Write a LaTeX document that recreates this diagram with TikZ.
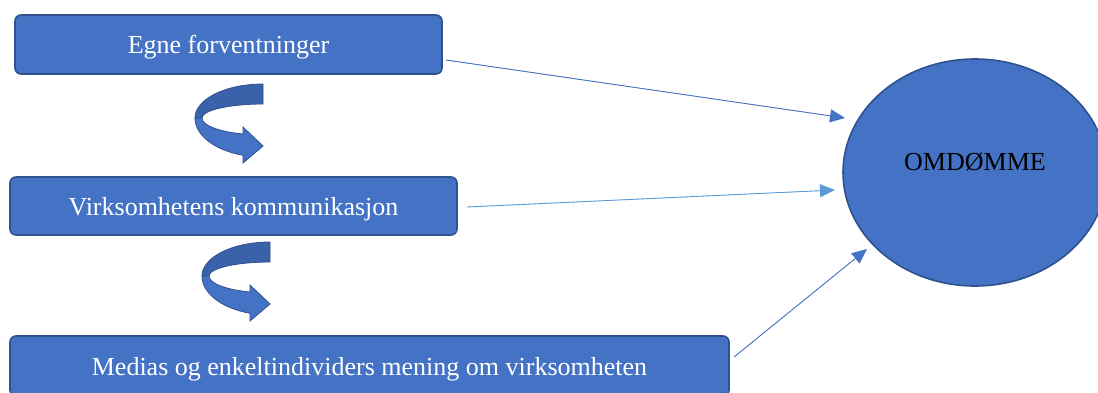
\documentclass[tikz,border=0pt]{standalone}
\usepackage{fontspec}
\setmainfont{Liberation Serif}
\usetikzlibrary{shapes.geometric,arrows.meta}
\definecolor{boxblue}{HTML}{4472C4}
\definecolor{edgeblue}{HTML}{2F528F}
\definecolor{backblue}{HTML}{3A62AA}
\definecolor{lightblue}{HTML}{5B9BD5}
\tikzset{
  stepbox/.style={draw=edgeblue, line width=1.6pt, fill=boxblue, rounded corners=6pt,
    text=white, font=\fontsize{26}{30}\selectfont, inner sep=0pt,
    text height=18pt, text depth=0pt},
  conn/.style={line width=0.9pt, -{Triangle[length=15pt,width=13pt]}},
  curlarrow/.pic={
    % rear half of the ribbon
    \path[fill=backblue, draw=edgeblue, line width=0.8pt]
      (0,-34) arc[start angle=-90, end angle=-180, x radius=68, y radius=34]
      -- (-61,0) arc[start angle=180, end angle=270, x radius=61, y radius=14] -- cycle;
    % front half with the arrow head
    \path[fill=boxblue, draw=edgeblue, line width=0.8pt]
      (-68,0) arc[start angle=180, end angle=107.1, x radius=68, y radius=39]
      -- (-20,45) -- (0,28) -- (-20,9) -- (-20,16)
      arc[start angle=109.1, end angle=180, x radius=61, y radius=17] -- cycle;
  }
}
\begin{document}
\begin{tikzpicture}[x=1pt, y=-1pt]
  \useasboundingbox (0,0) rectangle (1098,392);
  \clip (0,0) rectangle (1098,392);

  % the three boxes on the left
  \node[stepbox, minimum width=427pt, minimum height=59pt] (b1) at (228.5,44.5) {Egne forventninger};
  \node[stepbox, minimum width=447pt, minimum height=58pt] (b2) at (233.5,206) {Virksomhetens kommunikasjon};
  \node[stepbox, minimum width=719pt, minimum height=60pt] (b3) at (369.5,366) {Medias og enkeltindividers mening om virksomheten};

  % the oval on the right
  \node[ellipse, draw=edgeblue, line width=1.6pt, fill=boxblue, minimum width=264pt,
        minimum height=227pt, inner sep=0pt] (om) at (975,172.5) {};
  \node[font=\fontsize{26}{30}\selectfont, text=black] (omtxt) at (975,162) {OMDØMME};

  % curved arrows between the boxes
  \pic at (263,118) {curlarrow};
  \pic at (270,276) {curlarrow};

  % arrow end points
  \coordinate (s1) at (446,60);
  \coordinate (t1) at (845,118);
  \coordinate (s2) at (467,207);
  \coordinate (t2) at (835,190);
  \coordinate (s3) at (734,357);
  \coordinate (t3) at (867,249);

  \draw[conn, draw=boxblue, fill=boxblue] (s1) -- (t1);
  \draw[conn, draw=lightblue, fill=lightblue] (s2) -- (t2);
  \draw[conn, draw=boxblue, fill=boxblue] (s3) -- (t3);
\end{tikzpicture}
\end{document}
